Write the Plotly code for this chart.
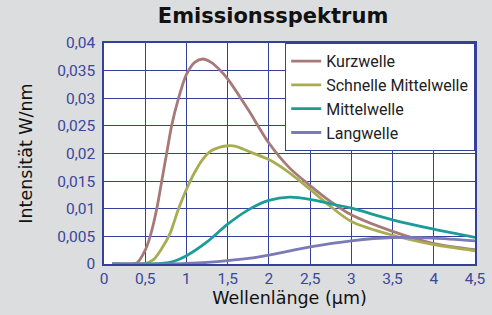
import plotly.graph_objects as go

x_kurz = [0.1, 0.3, 0.4, 0.5, 0.56, 0.64, 0.7, 0.76, 0.82, 0.9, 1.0, 1.1, 1.2, 1.3, 1.4, 1.5, 1.75, 2.0, 2.25, 2.5, 2.75, 3.0, 3.5, 4.0, 4.5]
y_kurz = [0, 0, 0.0002, 0.0025, 0.005, 0.01, 0.015, 0.02, 0.025, 0.0298, 0.0343, 0.0365, 0.0371, 0.0365, 0.0352, 0.0335, 0.0279, 0.0219, 0.0174, 0.0142, 0.0113, 0.0089, 0.0059, 0.0037, 0.0026]

x_schnell = [0.1, 0.4, 0.5, 0.6, 0.7, 0.8, 0.9, 1.0, 1.1, 1.2, 1.3, 1.4, 1.5, 1.6, 1.75, 2.0, 2.25, 2.5, 2.75, 3.0, 3.5, 4.0, 4.5]
y_schnell = [0, 0, 0.0001, 0.0008, 0.0028, 0.0055, 0.0098, 0.0135, 0.0166, 0.019, 0.0205, 0.0211, 0.0214, 0.0213, 0.0204, 0.0189, 0.0165, 0.0135, 0.0104, 0.0077, 0.0052, 0.0035, 0.0024]

x_mittel = [0.1, 0.5, 0.7, 0.85, 1.0, 1.25, 1.5, 1.75, 2.0, 2.25, 2.5, 2.75, 3.0, 3.5, 4.0, 4.5]
y_mittel = [0, 0, 0.0001, 0.0005, 0.0015, 0.004, 0.0072, 0.0098, 0.0115, 0.0121, 0.0117, 0.0109, 0.0101, 0.008, 0.0063, 0.0048]

x_lang = [0.1, 0.8, 1.0, 1.25, 1.5, 1.75, 2.0, 2.5, 3.0, 3.5, 4.0, 4.5]
y_lang = [0, 0, 0.0001, 0.0003, 0.0006, 0.001, 0.0016, 0.0031, 0.0042, 0.0048, 0.0047, 0.0042]

names = ["Kurzwelle", "Schnelle Mittelwelle", "Mittelwelle", "Langwelle"]
colors = ["#a67a78", "#a9ad52", "#1c9c98", "#7b79b6"]

x_ticks = [0, 0.5, 1, 1.5, 2, 2.5, 3, 3.5, 4, 4.5]
x_ticklabels = ["0", "0,5", "1", "1,5", "2", "2,5", "3", "3,5", "4", "4,5"]
y_ticks = [0, 0.005, 0.01, 0.015, 0.02, 0.025, 0.03, 0.035, 0.04]
y_ticklabels = ["0", "0,005", "0,01", "0,015", "0,02", "0,025", "0,03", "0,035", "0,04"]

FONT = "Roboto"
TFONT = "DejaVu Sans"
grid = "#35409a"
tickc = "#3a479c"

fig = go.Figure()
for xs, ys, n, c in zip([x_kurz, x_schnell, x_mittel, x_lang],
                        [y_kurz, y_schnell, y_mittel, y_lang], names, colors):
    fig.add_trace(go.Scatter(x=xs, y=ys, name=n, mode="lines",
                             line=dict(color=c, width=2.8, shape="spline", smoothing=0.8)))

fig.update_layout(
    width=492, height=315,
    paper_bgcolor="#dcdddf", plot_bgcolor="white",
    margin=dict(l=104, r=17, t=43, b=51, autoexpand=False),
    title=dict(text="<b>Emissionsspektrum</b>", x=0.555, xanchor="center", y=0.975, yanchor="top",
               font=dict(family=TFONT, size=21, color="#111111")),
    font=dict(family=FONT),
    legend=dict(x=1, y=1, xanchor="right", yanchor="top", bgcolor="white",
                bordercolor=grid, borderwidth=1.2,
                font=dict(family=FONT, size=16, color="#222222"),
                itemwidth=30, tracegroupgap=0, traceorder="normal"),
    xaxis=dict(range=[0, 4.5], tickvals=x_ticks, ticktext=x_ticklabels, automargin=False,
               showgrid=True, gridcolor=grid, gridwidth=1.2,
               showline=True, linecolor=grid, linewidth=1.5, mirror=True,
               zeroline=False, ticks="", tickfont=dict(family=FONT, size=15.5, color=tickc),
               title=dict(text="Wellenlänge (µm)", font=dict(family=TFONT, size=17.5, color="#111111"),
                          standoff=4)),
    yaxis=dict(range=[0, 0.04], tickvals=y_ticks, ticktext=y_ticklabels, automargin=False,
               showgrid=True, gridcolor=grid, gridwidth=1.2,
               showline=True, linecolor=grid, linewidth=1.5, mirror=True,
               zeroline=False, ticks="", ticklabelstandoff=4,
               tickfont=dict(family=FONT, size=15.5, color=tickc),
               title=dict(text="Intensität W/nm", font=dict(family=TFONT, size=17.5, color="#111111"),
                          standoff=20)),
)

fig.write_html("out.html", config={"displayModeBar": False},
               post_script="document.body.style.margin='0';document.body.style.background='#dcdddf';document.body.style.overflow='hidden';")
